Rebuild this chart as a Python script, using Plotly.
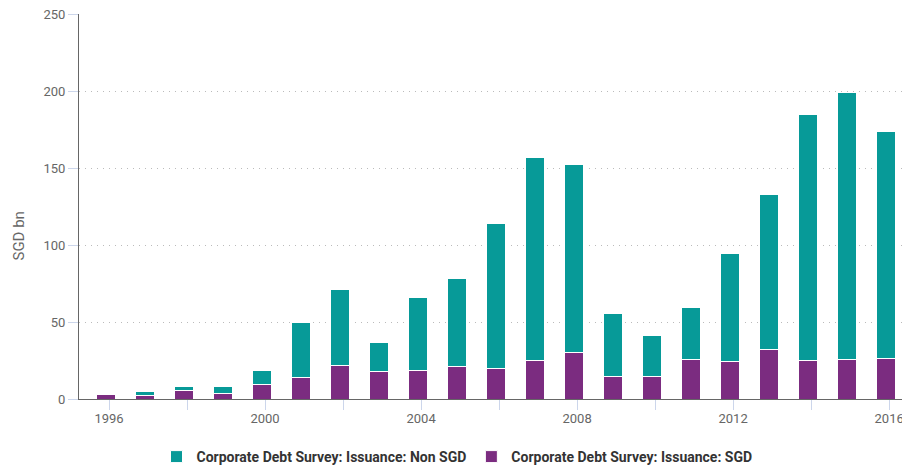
import plotly.graph_objects as go

# Annual corporate debt issuance, SGD bn
years = list(range(1996, 2017))
sgd = [3.2, 2.1, 5.8, 3.5, 9.1, 14.1, 22.0, 18.0, 18.8, 21.1, 19.5, 25.1,
       29.9, 14.7, 14.7, 25.8, 24.2, 32.3, 25.1, 25.8, 26.6]
non_sgd = [0.0, 2.9, 2.4, 4.7, 9.3, 35.5, 49.0, 18.8, 47.2, 57.0, 94.3, 131.9,
           122.3, 41.1, 26.6, 33.3, 70.6, 100.6, 159.8, 173.3, 147.0]
tick_years = [1996, 2000, 2004, 2008, 2012, 2016]

TEAL = "#079a98"
PURPLE = "#7b2c80"
FONT = "Roboto"

fig = go.Figure()
fig.add_trace(go.Bar(
    x=years, y=sgd, name="Corporate Debt Survey: Issuance: SGD",
    marker=dict(color=PURPLE, line=dict(color="#ffffff", width=1)),
    width=0.48, offset=-0.32,
))
fig.add_trace(go.Bar(
    x=years, y=non_sgd, name="Corporate Debt Survey: Issuance: Non SGD",
    marker=dict(color=TEAL, line=dict(color="#ffffff", width=1)),
    width=0.48, offset=-0.32,
))

fig.update_layout(
    barmode="stack",
    width=902, height=466,
    margin=dict(l=79, r=0, t=14, b=67, autoexpand=False),
    plot_bgcolor="#ffffff", paper_bgcolor="#ffffff",
    font=dict(family=FONT, color="#666666", size=13),
    showlegend=True,
    legend=dict(
        orientation="h", xref="container", x=457 / 902, xanchor="center",
        yref="container", y=9 / 466, yanchor="middle",
        traceorder="reversed",
        font=dict(family=FONT, size=14, color="#333333", weight="bold"),
        itemwidth=30,
    ),
    annotations=[dict(
        text="SGD bn", xref="paper", yref="paper",
        x=(18 - 79) / 823, y=(399 - 235.5) / 385,
        xanchor="center", yanchor="middle", textangle=-90,
        showarrow=False, font=dict(family=FONT, size=15, color="#666666"),
    )],
)

fig.update_xaxes(
    range=[1995.23, 2016.33],
    tickmode="array", tickvals=tick_years, ticktext=[str(y) for y in tick_years],
    ticks="outside", ticklen=10, tickcolor="#ccd6eb", tickwidth=1,
    minor=dict(tickmode="linear", tick0=1996, dtick=2, ticks="outside",
               ticklen=10, tickcolor="#ccd6eb", showgrid=False),
    showline=True, linecolor="#666666", linewidth=1,
    showgrid=False, zeroline=False,
    ticklabeloverflow="allow", ticklabelstandoff=-3,
    tickfont=dict(family=FONT, size=13, color="#666666"),
)
fig.update_yaxes(
    range=[0, 250], tickmode="linear", tick0=0, dtick=50,
    ticks="outside", ticklen=10, tickcolor="#ccd6eb", tickwidth=1,
    showline=True, linecolor="#666666", linewidth=1,
    showgrid=True, gridcolor="#bbbbbb", griddash="1px,5px", gridwidth=1,
    zeroline=False,
    tickfont=dict(family=FONT, size=13, color="#666666"),
)

fig.write_html("out.html")
